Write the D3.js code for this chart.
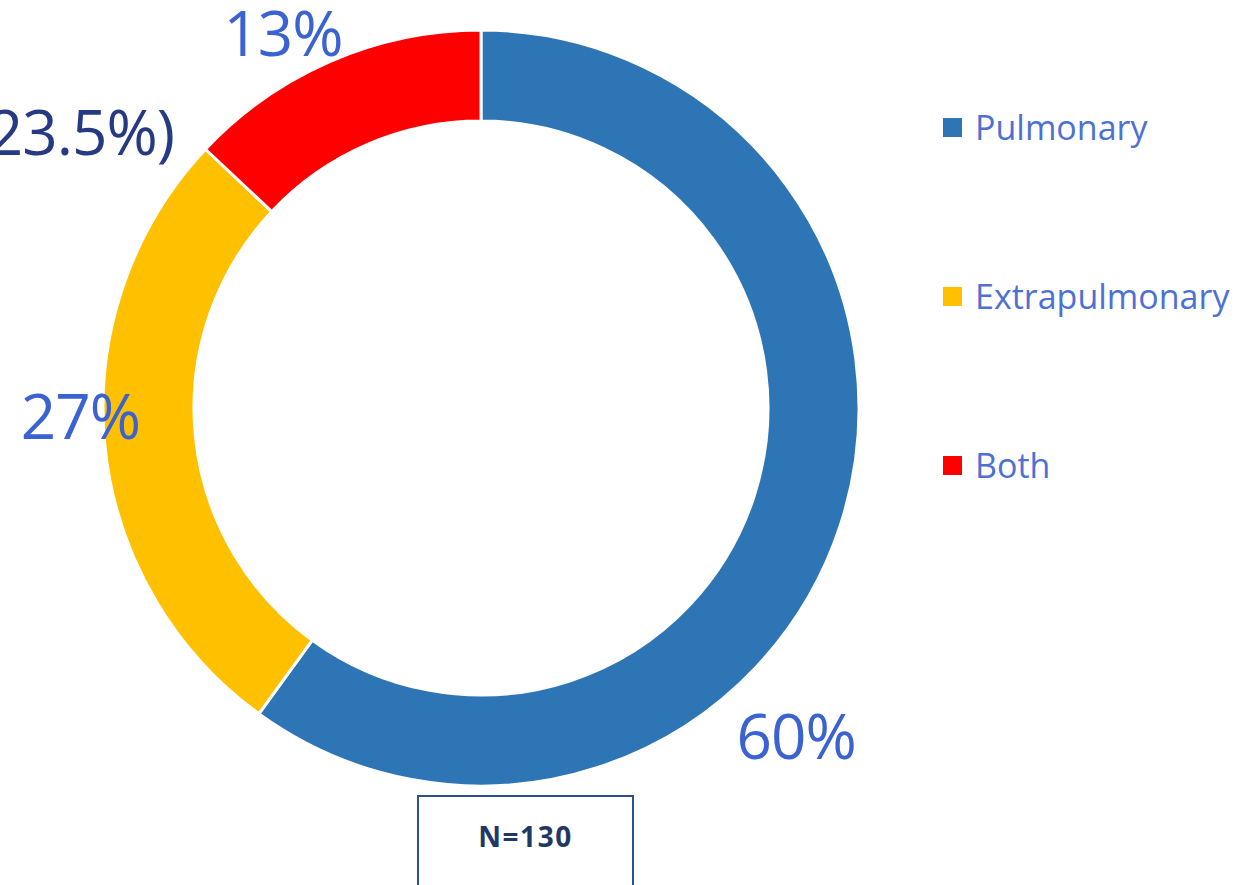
<!DOCTYPE html>
<html>
<head>
<meta charset="utf-8">
<script src="https://cdn.jsdelivr.net/npm/d3@7"></script>
<style>
  html, body { margin: 0; padding: 0; background: #fff; overflow: hidden; }
  svg { display: block; }
</style>
</head>
<body>
<svg id="chart" width="1256" height="885"></svg>
<script>
// ---- data ----
const categories = ["Pulmonary", "Extrapulmonary", "Both"];
const values = [60, 27, 13];
const valueLabels = ["60%", "27%", "13%"];
const colors = ["#2e75b6", "#ffc000", "#ff0000"];
const extraNote = "(23.5%)";
const sampleNote = "N=130";

// ---- layout ----
const W = 1256, H = 885;
const cx = 481, cy = 408;
const outerR = 378, innerR = 287;
// label placement (polar, degrees clockwise from 12 o'clock, radius)
const labelPolar = [
  { angle: 137, r: 462 },  // 60%
  { angle: 267.5, r: 401 }, // 27%
  { angle: 331.5, r: 415 }  // 13%
];

const svg = d3.select("#chart");
const g = svg.append("g").attr("transform", `translate(${cx},${cy})`);

const pie = d3.pie().sort(null).value(d => d.value);
const arc = d3.arc().innerRadius(innerR).outerRadius(outerR);
const data = categories.map((c, i) => ({ name: c, value: values[i], color: colors[i], label: valueLabels[i] }));
const arcs = pie(data);

g.selectAll("path.slice")
  .data(arcs)
  .join("path")
  .attr("class", "slice")
  .attr("d", arc)
  .attr("fill", d => d.data.color)
  .attr("stroke", "#ffffff")
  .attr("stroke-width", 3);

// value labels
const labelFont = "'Open Sans', 'Noto Sans', sans-serif";
g.selectAll("text.vlabel")
  .data(arcs)
  .join("text")
  .attr("class", "vlabel")
  .attr("x", (d, i) => labelPolar[i].r * Math.sin(labelPolar[i].angle * Math.PI / 180))
  .attr("y", (d, i) => -labelPolar[i].r * Math.cos(labelPolar[i].angle * Math.PI / 180))
  .attr("dy", 13)
  .attr("text-anchor", "middle")
  .attr("font-family", labelFont)
  .attr("font-size", 62)
  .attr("letter-spacing", -1)
  .attr("fill", "#3a62d0")
  .text(d => d.data.label);

// partly clipped note at top-left
svg.append("text")
  .attr("x", 174)
  .attr("y", 155)
  .attr("text-anchor", "end")
  .attr("font-family", labelFont)
  .attr("font-size", 62)
  .attr("letter-spacing", -1)
  .attr("fill", "#253a82")
  .text(extraNote);

// legend
const legend = svg.append("g").attr("transform", "translate(943,118)");
const rowGap = 169;
const items = legend.selectAll("g.item")
  .data(data)
  .join("g")
  .attr("class", "item")
  .attr("transform", (d, i) => `translate(0,${i * rowGap})`);
items.append("rect")
  .attr("width", 19).attr("height", 19)
  .attr("fill", d => d.color);
items.append("text")
  .attr("x", 32)
  .attr("y", 22)
  .attr("font-family", labelFont)
  .attr("font-size", 34)
  .attr("fill", "#4d71d3")
  .text(d => d.name);

// N box
const box = svg.append("g");
box.append("rect")
  .attr("x", 418).attr("y", 796)
  .attr("width", 215).attr("height", 100)
  .attr("fill", "#ffffff")
  .attr("stroke", "#2f5090")
  .attr("stroke-width", 2);
box.append("text")
  .attr("x", 525.5)
  .attr("y", 847)
  .attr("text-anchor", "middle")
  .attr("font-family", labelFont)
  .attr("font-weight", "bold")
  .attr("font-size", 28)
  .attr("letter-spacing", 1.5)
  .attr("fill", "#1f3864")
  .text(sampleNote);
</script>
</body>
</html>
